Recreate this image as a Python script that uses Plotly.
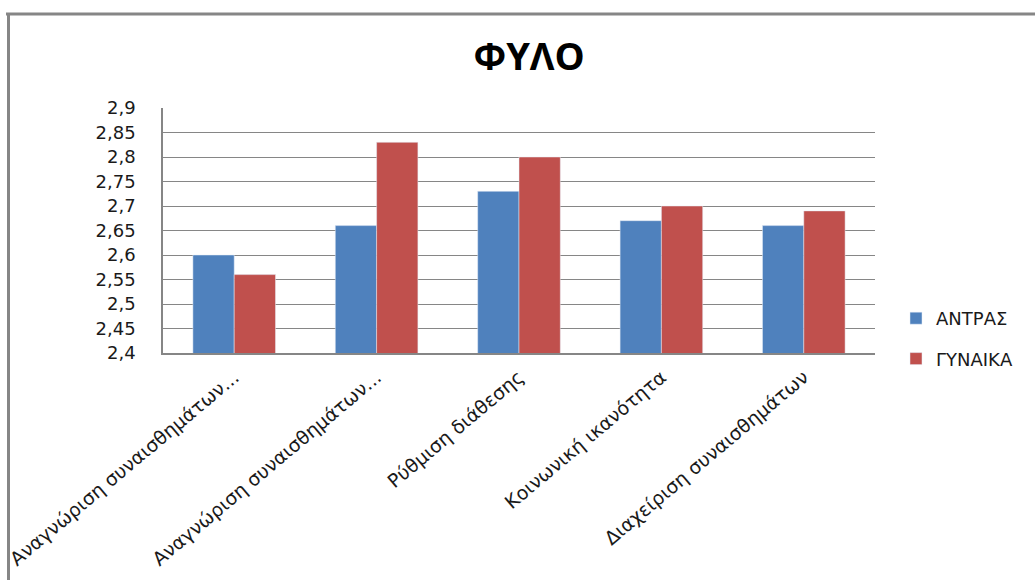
import plotly.graph_objects as go

categories = [
    "Αναγνώριση συναισθημάτων...",
    "Αναγνώριση συναισθημάτων...",
    "Ρύθμιση διάθεσης",
    "Κοινωνική ικανότητα",
    "Διαχείριση συναισθημάτων",
]
men = [2.60, 2.66, 2.73, 2.67, 2.66]
women = [2.56, 2.83, 2.80, 2.70, 2.69]
series_names = ["ΑΝΤΡΑΣ", "ΓΥΝΑΙΚΑ"]
y_ticks = [2.4, 2.45, 2.5, 2.55, 2.6, 2.65, 2.7, 2.75, 2.8, 2.85, 2.9]

W, H = 1035, 580
L, R, T, B = 163, 875, 108, 353

xpos = list(range(len(categories)))

fig = go.Figure()
fig.add_trace(go.Bar(x=xpos, y=men, name=series_names[0], marker_color="#4F81BD",
                     legendgroup="a"))
fig.add_trace(go.Bar(x=xpos, y=women, name=series_names[1], marker_color="#C0504D",
                     legendgroup="b"))

def px_x(p):
    return (p - L) / (R - L)

def px_y(p):
    return (B - p) / (B - T)

shapes = [
    dict(type="line", xref="paper", yref="paper", x0=px_x(6), x1=px_x(1040),
         y0=px_y(14), y1=px_y(14), line=dict(color="#868686", width=3)),
    dict(type="line", xref="paper", yref="paper", x0=px_x(8.5), x1=px_x(8.5),
         y0=px_y(14), y1=px_y(600), line=dict(color="#868686", width=3)),
]

TXT = "#1a1a1a"
FONT = "DejaVu Sans"

fig.update_layout(
    width=W, height=H,
    margin=dict(l=L, r=W - R, t=T, b=H - B, pad=0),
    paper_bgcolor="white", plot_bgcolor="white",
    separators=",.",
    barmode="group", bargap=0.42, bargroupgap=0,
    title=dict(text="<b>ΦΥΛΟ</b>", x=px_x(527), xanchor="center",
               y=1 - 57 / H, yanchor="middle",
               font=dict(family="Liberation Sans Narrow, Open Sans", size=38, color="black")),
    font=dict(family=FONT, color=TXT),
    xaxis=dict(tickmode="array", tickvals=xpos, ticktext=categories,
               tickangle=-40, tickfont=dict(size=19, family=FONT, color=TXT),
               showgrid=False, showline=True, linecolor="#868686", linewidth=1.5,
               ticks="", ticklabelstandoff=4, range=[-0.5, 4.5], fixedrange=True,
               automargin=False),
    yaxis=dict(range=[2.4, 2.9], tickmode="array", tickvals=y_ticks,
               tickfont=dict(size=18, family=FONT, color=TXT),
               showgrid=True, gridcolor="#868686", gridwidth=1,
               showline=True, linecolor="#868686", linewidth=1.5,
               zeroline=False, ticks="", ticklabelstandoff=22, mirror=False,
               automargin=False),
    legend=dict(x=px_x(896), xanchor="left", y=px_y(300), yanchor="top",
                font=dict(size=18, family=FONT, color=TXT),
                tracegroupgap=14, itemwidth=30, bgcolor="rgba(0,0,0,0)"),
    shapes=shapes,
)

fig.write_html("out.html")
